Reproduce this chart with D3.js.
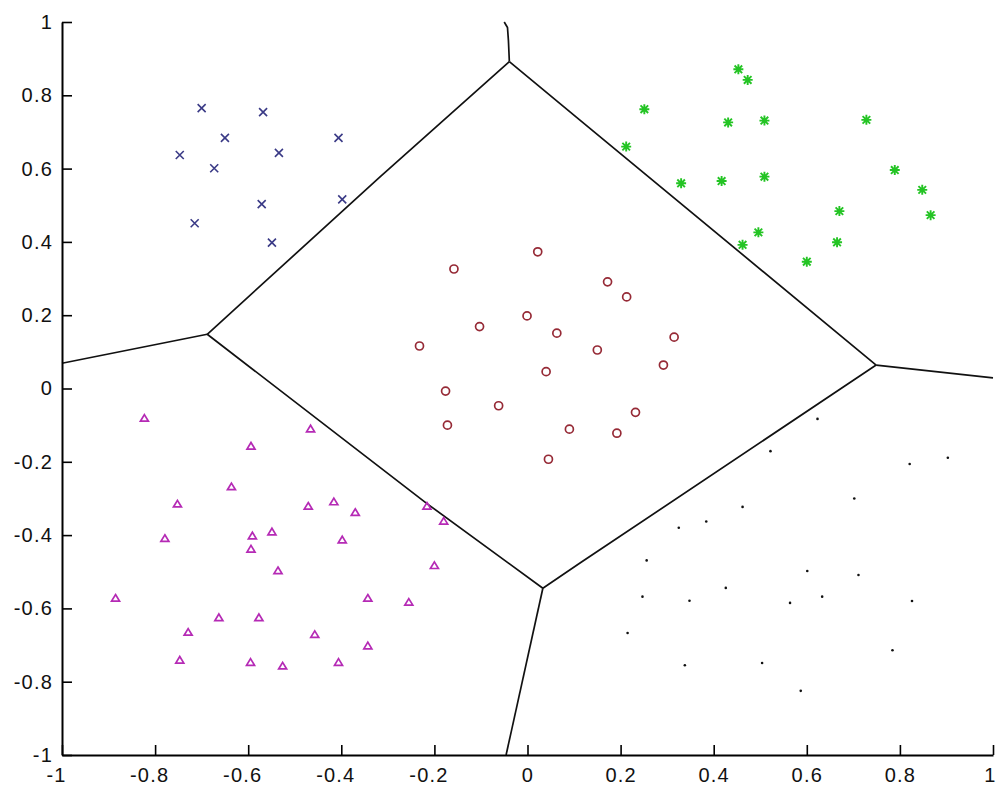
<!DOCTYPE html>
<html>
<head>
<meta charset="utf-8">
<script src="https://cdn.jsdelivr.net/npm/d3@7/dist/d3.min.js"></script>
<style>
  html, body { margin: 0; padding: 0; background: #fff; }
  svg { display: block; }
  .tick text { font-family: "Liberation Sans", Arial, Helvetica, sans-serif; font-size: 20px; fill: #111; letter-spacing: 1.2px; }
</style>
</head>
<body>
<svg id="chart" width="997" height="786"></svg>
<script>
// Tick values and their printed labels
const tickValues = [-1, -0.8, -0.6, -0.4, -0.2, 0, 0.2, 0.4, 0.6, 0.8, 1];
const tickLabels = ["-1", "-0.8", "-0.6", "-0.4", "-0.2", "0", "0.2", "0.4", "0.6", "0.8", "1"];

// Class 1 (blue crosses)
const classCross = [
  [-0.700, 0.765], [-0.568, 0.754], [-0.650, 0.684], [-0.406, 0.684],
  [-0.747, 0.637], [-0.534, 0.643], [-0.673, 0.601], [-0.571, 0.503],
  [-0.398, 0.516], [-0.715, 0.451], [-0.549, 0.398]
];

// Class 2 (green stars)
const classStar = [
  [0.453, 0.871], [0.473, 0.842], [0.251, 0.762], [0.431, 0.726],
  [0.509, 0.731], [0.728, 0.733], [0.212, 0.660], [0.330, 0.560],
  [0.417, 0.566], [0.509, 0.578], [0.789, 0.596], [0.848, 0.542],
  [0.866, 0.473], [0.670, 0.484], [0.496, 0.426], [0.462, 0.392],
  [0.665, 0.399], [0.600, 0.346]
];

// Class 3 (red circles)
const classCircle = [
  [0.022, 0.373], [-0.158, 0.326], [0.172, 0.291], [0.213, 0.250],
  [-0.001, 0.198], [-0.103, 0.169], [0.063, 0.151], [0.315, 0.140],
  [-0.232, 0.116], [0.150, 0.105], [0.292, 0.064], [0.040, 0.046],
  [-0.176, -0.007], [-0.062, -0.047], [0.232, -0.065], [-0.172, -0.100],
  [0.090, -0.111], [0.192, -0.122], [0.045, -0.193]
];

// Class 4 (magenta triangles)
const classTriangle = [
  [-0.823, -0.081], [-0.466, -0.110], [-0.594, -0.157], [-0.636, -0.268],
  [-0.752, -0.315], [-0.471, -0.321], [-0.416, -0.309], [-0.370, -0.338],
  [-0.216, -0.321], [-0.180, -0.362], [-0.779, -0.409], [-0.591, -0.402],
  [-0.549, -0.391], [-0.398, -0.413], [-0.594, -0.438], [-0.536, -0.497],
  [-0.200, -0.483], [-0.885, -0.572], [-0.343, -0.572], [-0.255, -0.583],
  [-0.663, -0.625], [-0.577, -0.625], [-0.729, -0.665], [-0.457, -0.671],
  [-0.343, -0.702], [-0.747, -0.741], [-0.595, -0.747], [-0.526, -0.757],
  [-0.406, -0.747]
];

// Class 5 (black dots)
const classDot = [
  [0.623, -0.083], [0.522, -0.171], [0.821, -0.206], [0.903, -0.189],
  [0.702, -0.300], [0.462, -0.323], [0.384, -0.363], [0.325, -0.380],
  [0.256, -0.469], [0.601, -0.498], [0.711, -0.509], [0.426, -0.544],
  [0.247, -0.568], [0.348, -0.579], [0.564, -0.585], [0.633, -0.568],
  [0.826, -0.580], [0.215, -0.667], [0.784, -0.714], [0.338, -0.755],
  [0.504, -0.749], [0.587, -0.825]
];

// Decision boundaries between the class regions
const boundaryTop    = [[-0.039, 0.892], [-0.041, 0.950], [-0.043, 0.985], [-0.050, 1.000]];
const boundaryUpLeft = [[-0.039, 0.892], [-0.318, 0.576], [-0.688, 0.148]];
const boundaryUpRight= [[-0.039, 0.892], [0.112, 0.733], [0.749, 0.064]];
const boundaryLeft   = [[-0.688, 0.148], [-1.000, 0.069]];
const boundaryRight  = [[0.749, 0.064], [1.000, 0.029]];
const boundaryLowLeft= [[-0.688, 0.148], [-0.216, -0.314], [0.033, -0.545]];
const boundaryLowRight=[[0.749, 0.064], [0.112, -0.477], [0.033, -0.545]];
const boundaryBottom = [[0.033, -0.545], [-0.046, -1.000]];

const svg = d3.select("#chart");
const x = d3.scaleLinear().domain([-1, 1]).range([62, 993]);
const y = d3.scaleLinear().domain([-1, 1]).range([755, 22]);

// Boundary lines
const line = d3.line().x(d => x(d[0])).y(d => y(d[1]));
const boundaries = [boundaryTop, boundaryUpLeft, boundaryUpRight, boundaryLeft,
                    boundaryRight, boundaryLowLeft, boundaryLowRight, boundaryBottom];
svg.append("g").selectAll("path").data(boundaries).join("path")
  .attr("d", line)
  .attr("fill", "none")
  .attr("stroke", "#111")
  .attr("stroke-width", 1.7)
  .attr("stroke-linejoin", "round");

// Crosses
const gCross = svg.append("g").attr("stroke", "#3a3a86").attr("stroke-width", 1.6);
gCross.selectAll("path").data(classCross).join("path")
  .attr("transform", d => `translate(${x(d[0])},${y(d[1])})`)
  .attr("d", "M-4,-4L4,4M-4,4L4,-4");

// Stars (asterisk markers)
const gStar = svg.append("g").attr("stroke", "#24c424").attr("stroke-width", 1.9);
gStar.selectAll("path").data(classStar).join("path")
  .attr("transform", d => `translate(${x(d[0])},${y(d[1])})`)
  .attr("d", "M-5,0L5,0M0,-5L0,5M-3.8,-3.8L3.8,3.8M-3.8,3.8L3.8,-3.8");

// Circles
svg.append("g").selectAll("circle").data(classCircle).join("circle")
  .attr("cx", d => x(d[0])).attr("cy", d => y(d[1]))
  .attr("r", 4)
  .attr("fill", "none")
  .attr("stroke", "#962a36")
  .attr("stroke-width", 1.7);

// Triangles
svg.append("g").selectAll("path").data(classTriangle).join("path")
  .attr("transform", d => `translate(${x(d[0])},${y(d[1])})`)
  .attr("d", "M0,-3.6L4,3L-4,3Z")
  .attr("fill", "none")
  .attr("stroke", "#b52ab5")
  .attr("stroke-width", 1.7);

// Dots
svg.append("g").selectAll("circle").data(classDot).join("circle")
  .attr("cx", d => x(d[0])).attr("cy", d => y(d[1]))
  .attr("r", 1.3)
  .attr("fill", "#111");

// Axes with inward ticks
const fmt = (d, i) => tickLabels[i];
const xAxis = svg.append("g").attr("transform", "translate(0,755)")
  .call(d3.axisBottom(x).tickValues(tickValues).tickFormat(fmt)
        .tickSizeInner(-10).tickSizeOuter(0).tickPadding(13));
const yAxis = svg.append("g").attr("transform", "translate(62,0)")
  .call(d3.axisLeft(y).tickValues(tickValues).tickFormat(fmt)
        .tickSizeInner(-10).tickSizeOuter(0).tickPadding(9));

[xAxis, yAxis].forEach(g => {
  g.select(".domain").attr("stroke", "#000").attr("stroke-width", 2);
  g.selectAll(".tick line").attr("stroke", "#000").attr("stroke-width", 1.6);
});
// Negative x labels keep their digits centred on the tick; the last one stays inside the frame
xAxis.selectAll(".tick text")
  .attr("dx", (d, i) => tickLabels[i].startsWith("-") ? -6 : (i === tickLabels.length - 1 ? -3 : 0));
</script>
</body>
</html>
